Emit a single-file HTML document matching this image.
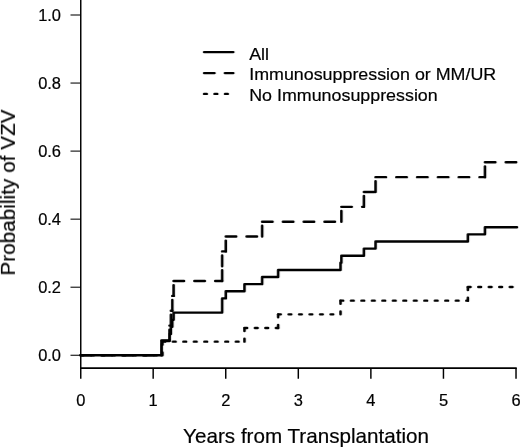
<!DOCTYPE html>
<html><head><meta charset="utf-8"><title>Probability of VZV</title>
<style>html,body{margin:0;padding:0;background:#fff;overflow:hidden}body{width:520px;height:448px;font-family:"Liberation Sans",sans-serif}svg{display:block}svg text,.t{font-family:"Liberation Sans",sans-serif}</style></head>
<body>
<svg width="520" height="448" viewBox="0 0 520 448">
<rect width="520" height="448" fill="#fff"/>
<g transform="scale(1.08333,1)">
<g stroke="#000" stroke-width="1.35" fill="none">
<path d="M74.54,-2 V368.90"/>
<path d="M73.87,368.05 H477.00" stroke-width="1.7"/>
<path d="M65.08,15.00 H74.54" stroke-width="1.05"/>
<path d="M65.08,83.05 H74.54" stroke-width="1.05"/>
<path d="M65.08,151.10 H74.54" stroke-width="1.05"/>
<path d="M65.08,219.15 H74.54" stroke-width="1.05"/>
<path d="M65.08,287.20 H74.54" stroke-width="1.05"/>
<path d="M65.08,355.25 H74.54" stroke-width="1.05"/>
<path d="M74.54,368.05 V378.75"/>
<path d="M141.39,368.05 V378.75"/>
<path d="M208.38,368.05 V378.75"/>
<path d="M275.36,368.05 V378.75"/>
<path d="M342.35,368.05 V378.75"/>
<path d="M409.34,368.05 V378.75"/>
<path d="M476.33,368.05 V378.75"/>
</g>
<g class="t" fill="#000" stroke="#000" stroke-width="0.2" style="opacity:.999">
<text transform="translate(56.31,20.60) scale(0.9616,1)" text-anchor="end" font-size="15.81">1.0</text>
<text transform="translate(56.31,88.65) scale(0.9616,1)" text-anchor="end" font-size="15.81">0.8</text>
<text transform="translate(56.31,156.70) scale(0.9616,1)" text-anchor="end" font-size="15.81">0.6</text>
<text transform="translate(56.31,224.75) scale(0.9616,1)" text-anchor="end" font-size="15.81">0.4</text>
<text transform="translate(56.31,292.80) scale(0.9616,1)" text-anchor="end" font-size="15.81">0.2</text>
<text transform="translate(56.31,360.85) scale(0.9616,1)" text-anchor="end" font-size="15.81">0.0</text>
<text transform="translate(74.54,406.00) scale(0.9616,1)" text-anchor="middle" font-size="15.81">0</text>
<text transform="translate(141.39,406.00) scale(0.9616,1)" text-anchor="middle" font-size="15.81">1</text>
<text transform="translate(208.38,406.00) scale(0.9616,1)" text-anchor="middle" font-size="15.81">2</text>
<text transform="translate(275.36,406.00) scale(0.9616,1)" text-anchor="middle" font-size="15.81">3</text>
<text transform="translate(342.35,406.00) scale(0.9616,1)" text-anchor="middle" font-size="15.81">4</text>
<text transform="translate(409.34,406.00) scale(0.9616,1)" text-anchor="middle" font-size="15.81">5</text>
<text transform="translate(476.33,406.00) scale(0.9616,1)" text-anchor="middle" font-size="15.81">6</text>
<text transform="translate(282.55,442.70) scale(0.9348,1)" text-anchor="middle" font-size="20.40">Years from Transplantation</text>
<text transform="translate(14.03,192.50) rotate(-90) scale(1,0.9366)" text-anchor="middle" letter-spacing="0.12" font-size="20.50">Probability of VZV</text>
<text transform="translate(230.03,59.60) scale(0.9613,1)" font-size="17.16">All</text>
<text transform="translate(230.03,80.35) scale(0.9613,1)" font-size="17.16">Immunosuppression or MM/UR</text>
<text transform="translate(230.03,101.10) scale(0.9613,1)" font-size="17.16">No Immunosuppression</text>
</g>
<g stroke="#000" stroke-width="2.40" fill="none" stroke-linecap="round">
<path d="M188.40,52.1 H215.35"/>
<path d="M188.40,73.1 H215.35" stroke-dasharray="9.60 9.60"/>
<path d="M188.40,93.9 H213.85" stroke-dasharray="2.44 7.24"/>
</g>
<g stroke="#000" stroke-width="2.40" fill="none" stroke-linejoin="round" stroke-linecap="round">
<path d="M74.54,355.30 L149.97,355.30 M149.97,341.64 L225.66,341.64 M225.66,327.98 L256.74,327.98 M256.74,314.33 L314.33,314.33 M314.33,300.67 L431.89,300.67 M431.89,287.01 L477.18,287.01" stroke-dasharray="2.44 7.24"/>
<path d="M149.97,355.30 L149.97,341.64 M225.66,341.64 L225.66,327.98 M256.74,327.98 L256.74,314.33 M314.33,314.33 L314.33,300.67 M431.89,300.67 L431.89,287.01" stroke-dasharray="2.92 7.72"/>
<path d="M74.54,355.30 L149.03,355.30 M149.03,340.45 L156.46,340.45 M156.46,325.61 L157.75,325.61 M157.75,310.76 L159.05,310.76 M159.05,295.92 L160.25,295.92 M160.25,281.07 L205.06,281.07 M205.06,251.38 L208.42,251.38 M208.42,236.53 L241.97,236.53 M241.97,221.69 L315.12,221.69 M315.12,206.84 L335.92,206.84 M335.92,192.00 L346.66,192.00 M346.66,177.15 L447.66,177.15 M447.66,162.31 L477.18,162.31" stroke-dasharray="9.60 9.60"/>
<path d="M149.03,355.30 L149.03,340.45 M156.46,340.45 L156.46,325.61 M157.75,325.61 L157.75,310.76 M159.05,310.76 L159.05,295.92 M160.25,295.92 L160.25,281.07 M205.06,281.07 L205.06,266.23 M205.06,266.23 L205.06,251.38 M208.42,251.38 L208.42,236.53 M241.97,236.53 L241.97,221.69 M315.12,221.69 L315.12,206.84 M335.92,206.84 L335.92,192.00 M346.66,192.00 L346.66,177.15 M447.66,177.15 L447.66,162.31" stroke-dasharray="10.80 10.32"/>
<path d="M74.54,355.30 L149.03,355.30 L149.03,341.07 L156.46,341.07 L156.46,333.96 L157.75,333.96 L157.75,326.85 L159.05,326.85 L159.05,319.73 L160.25,319.73 L160.25,312.62 L205.06,312.62 L205.06,298.39 L208.42,298.39 L208.42,291.28 L225.66,291.28 L225.66,284.16 L241.97,284.16 L241.97,277.05 L256.74,277.05 L256.74,269.94 L314.33,269.94 L314.33,262.82 L315.12,262.82 L315.12,255.71 L335.92,255.71 L335.92,248.60 L346.66,248.60 L346.66,241.48 L431.89,241.48 L431.89,234.37 L447.66,234.37 L447.66,227.26 L477.18,227.26"/>
</g>
</g>
</svg>
</body></html>
